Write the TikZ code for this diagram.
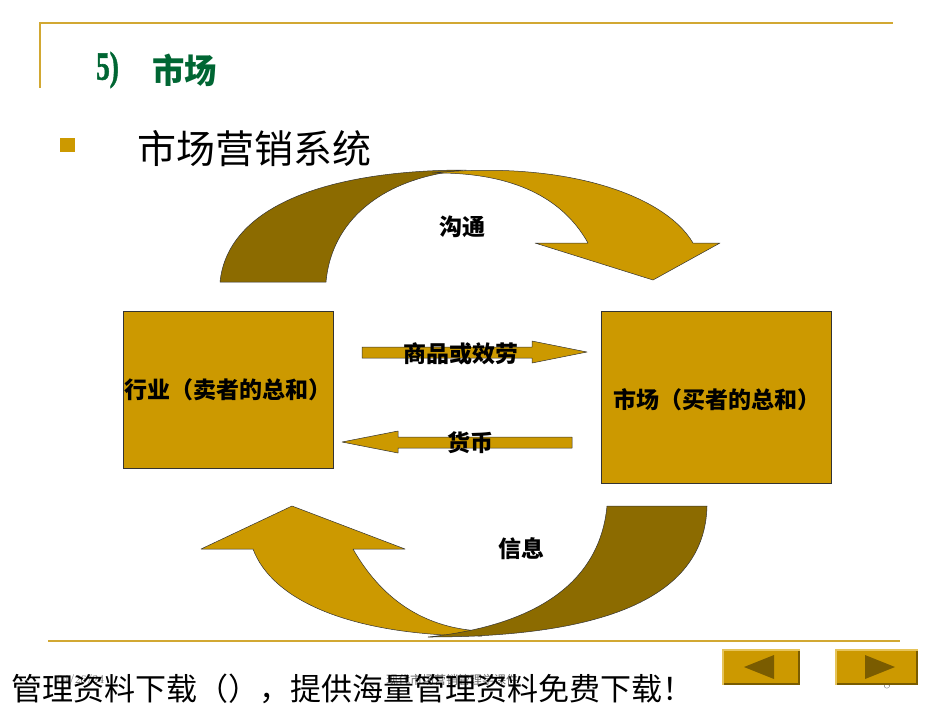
\documentclass[tikz,border=0pt]{standalone}
\usepackage{fontspec}
\newfontfamily\cjk{Noto Sans CJK SC}
\newfontfamily\titleser{Liberation Serif}[BoldFont={Liberation Serif Bold}, BoldFeatures={FakeBold=1.5}]
\usetikzlibrary{positioning}
\definecolor{gold}{HTML}{CC9900}
\definecolor{darkgold}{HTML}{8C6B00}
\definecolor{lineg}{HTML}{D2A832}
\definecolor{titlegreen}{HTML}{006633}
\definecolor{navlight}{HTML}{E6C45A}
\definecolor{navdark}{HTML}{7A5C00}
\tikzset{
  band/.style={draw=black!80, line width=0.5pt, line join=round},
  goldband/.style={band, fill=gold},
  darkband/.style={band, fill=darkgold},
  bigbox/.style={draw=black!80, line width=0.6pt, fill=gold, inner sep=0pt},
  lbl/.style={font=\cjk\bfseries\fontsize{23}{23}\selectfont, text=black, inner sep=0pt},
  topline/.style={draw=lineg, line width=2pt},
  navtri/.style={fill=navdark, draw=none},
}
\begin{document}
\begin{tikzpicture}[x=1pt,y=-1pt]
\useasboundingbox (0,0) rectangle (950,713);
\fill[white] (0,0) rectangle (950,713);
% frame lines
\draw[topline] (40,23) -- (893,23);
\draw[draw=lineg, line width=1.5pt] (40,22) -- (40,88);
\draw[topline] (48,641) -- (900,641);
% title
\node[anchor=west, inner sep=0pt, text=titlegreen] (titlenum) at (96,70)
  {\scalebox{0.68}[1]{\titleser\bfseries\fontsize{40}{40}\selectfont 5)}};
\node[anchor=west, inner sep=0pt, text=titlegreen] (title) at (152,70)
  {\scalebox{0.95}[1]{\cjk\bfseries\fontsize{34}{34}\selectfont 市场}};
% bullet
\fill[gold] (60,138) rectangle (75,152);
\node[anchor=west, inner sep=0pt, font=\cjk\fontsize{39}{39}\selectfont] (sub) at (137,149) {市场营销系统};
% top curved arrow
\path[darkband] (220,282) .. controls (228,205) and (330,170) .. (466,170)
  .. controls (390,176) and (332,215) .. (326,282) -- cycle;
\path[goldband] (432,173) .. controls (565,160) and (665,195) .. (693,243)
  -- (720,243) -- (653,280) -- (535,243) -- (588,243)
  .. controls (560,193) and (505,172) .. (432,173) -- cycle;
% bottom curved arrow
\path[goldband] (292,506) -- (405,549) -- (353,549)
  .. controls (385,605) and (430,628) .. (480,631)
  -- (482,636) .. controls (350,636) and (272,600) .. (253,549)
  -- (201,549) -- cycle;
\path[darkband] (607,506) -- (707,506)
  .. controls (705,595) and (610,637) .. (428,637)
  .. controls (540,625) and (600,580) .. (607,506) -- cycle;
% boxes
\node[bigbox, minimum width=210pt, minimum height=157pt] (seller) at (228,389.5) {};
\node[lbl, anchor=center] (sellerlbl) at (228,390) {行业（卖者的总和）};
\node[bigbox, minimum width=230pt, minimum height=172pt] (buyer) at (716,397) {};
\node[lbl, anchor=center] (buyerlbl) at (717,400) {市场（买者的总和）};
% middle arrows
\path[goldband] (362,347) -- (532,347) -- (532,341) -- (587,352) -- (532,363) -- (532,358) -- (362,358) -- cycle;
\path[goldband] (572,437) -- (398,437) -- (398,431) -- (342,442) -- (398,453) -- (398,448) -- (572,448) -- cycle;
% labels
\node[lbl] (goods) at (461,354) {商品或效劳};
\node[lbl] (money) at (470,443) {货币};
\node[lbl] (comm) at (462,227) {沟通};
\node[lbl] (info) at (521,549) {信息};
% footer small texts
\node[anchor=west, inner sep=0pt, text=black!60, font=\fontsize{12}{12}\selectfont] (date) at (57,680) {04/26/24};
\node[anchor=west, inner sep=0pt, text=black!60, font=\cjk\fontsize{12}{12}\selectfont] (course) at (386,680) {现代市场营销管理学课件};
\node[inner sep=0pt, text=black!60, font=\fontsize{14}{14}\selectfont] (pnum) at (887,684) {8};
% nav buttons
\fill[navlight] (722,649) rectangle (800,685);
\fill[navdark] (724,651) rectangle (800,685);
\fill[gold] (724,651) rectangle (798,683);
\fill[navtri] (744,667) -- (774,655) -- (774,679) -- cycle;
\fill[navlight] (835,649) rectangle (918,685);
\fill[navdark] (837,651) rectangle (918,685);
\fill[gold] (837,651) rectangle (916,683);
\fill[navtri] (895,667) -- (865,655) -- (865,679) -- cycle;
% footer big text
\node[anchor=west, inner sep=0pt, font=\cjk\fontsize{31}{31}\selectfont] (ad) at (11,689) {管理资料下载（），提供海量管理资料免费下载！};
\end{tikzpicture}
\end{document}
